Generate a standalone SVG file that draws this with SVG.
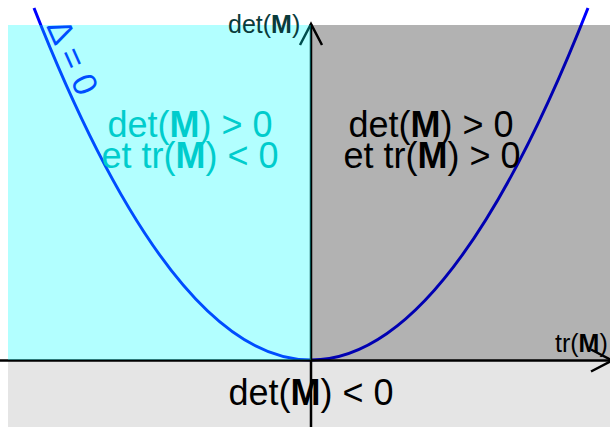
<svg xmlns="http://www.w3.org/2000/svg" width="610" height="427" viewBox="0 0 610 427">
<style>
text{font-family:"Liberation Sans",Arial,sans-serif}
.b{font-weight:bold}
.q{font-size:36px;text-anchor:middle}
.ax{fill:none;stroke:#000;stroke-width:2.5}
</style>
<rect width="610" height="427" fill="#fff"/>
<g id="connectors">
<path id="curve" d="M34,8 Q311,712 588,8" fill="none" stroke="#0000ff" stroke-width="3"/>
<line class="ax" x1="0" y1="360.5" x2="612" y2="360.5"/>
<polyline class="ax" points="591,349.5 612,360.5 591,371.5"/>
<line class="ax" x1="311" y1="427" x2="311" y2="24"/>
<polyline class="ax" points="300,45 311,24 322,45"/>
</g>
<g id="delta-label">
<text x="46" y="26" font-size="34" fill="#0000ff" transform="rotate(66 46 26)">Δ = 0</text>
</g>
<g id="regions">
<rect id="q2" x="8" y="25" width="303" height="335" fill="#00ffff" fill-opacity="0.3"/>
<rect id="q1" x="311" y="25" width="299" height="335" fill="#000" fill-opacity="0.3"/>
<rect id="q34" x="8" y="360" width="602" height="67" fill="#000" fill-opacity="0.1"/>
</g>
<g id="axis-labels">
<text x="228" y="33" font-size="25" fill="#0a3b3b">det(<tspan class="b">M</tspan>)</text>
<text x="555" y="352" font-size="25" fill="#000">tr(<tspan class="b">M</tspan>)</text>
</g>
<g id="label-q2">
<text class="q" x="190" y="137" fill="#00cccc">det(<tspan class="b">M</tspan>) &gt; 0</text>
<text class="q" x="190" y="168" fill="#00cccc">et tr(<tspan class="b">M</tspan>) &lt; 0</text>
</g>
<g id="label-q1">
<text class="q" x="431" y="137" fill="#000">det(<tspan class="b">M</tspan>) &gt; 0</text>
<text class="q" x="432" y="168" fill="#000">et tr(<tspan class="b">M</tspan>) &gt; 0</text>
</g>
<g id="label-bottom">
<text class="q" x="311" y="405" fill="#000">det(<tspan class="b">M</tspan>) &lt; 0</text>
</g>
</svg>
